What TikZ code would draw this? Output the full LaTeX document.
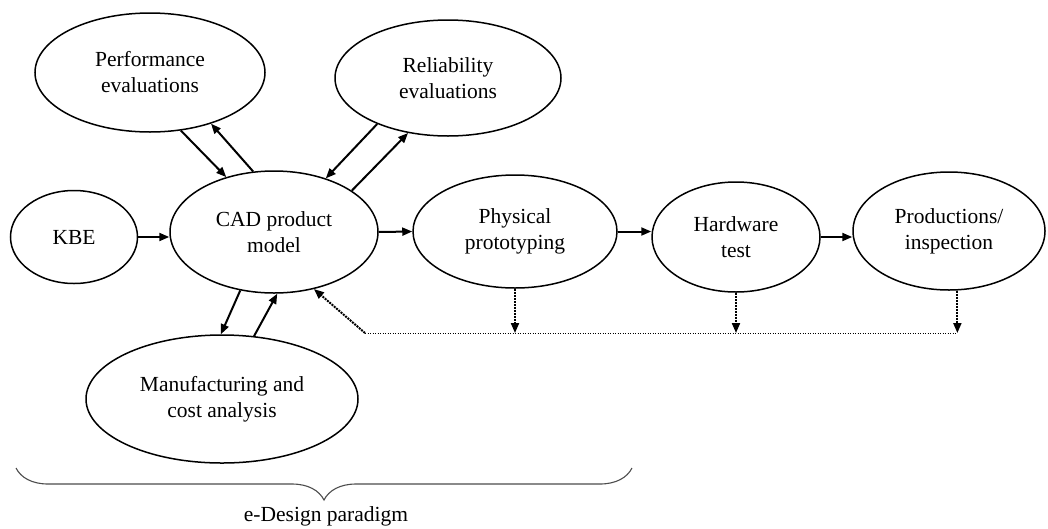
\documentclass[tikz,border=0pt]{standalone}
\usepackage{fontspec}
\setmainfont{Liberation Serif}
\usetikzlibrary{shapes.geometric,arrows.meta,decorations.pathreplacing,calc}
\begin{document}
\begin{tikzpicture}[x=1pt,y=-1pt,
  box/.style={ellipse,draw,line width=1.5pt,inner sep=0pt,align=center,font=\fontsize{21.5}{26}\selectfont},
  flow/.style={line width=2pt,-{Triangle[length=10pt,width=8pt]}},
  fb/.style={line width=2pt,densely dotted,-{Triangle[length=10pt,width=8pt]}},
  fbline/.style={line width=1pt,dash pattern=on 1pt off 1.5pt},
  bracestyle/.style={decorate,decoration={brace,amplitude=32pt,mirror},line width=1.1pt,draw=black!70},
  lbl/.style={font=\fontsize{21.5}{26}\selectfont}]
\useasboundingbox (0,0) rectangle (1048,528);
% nodes
\node[box,minimum width=230pt,minimum height=119pt] (perf) at (150,72.5) {Performance\\evaluations};
\node[box,minimum width=226pt,minimum height=116pt] (rel) at (448,78) {Reliability\\evaluations};
\node[box,minimum width=127pt,minimum height=93pt] (kbe) at (74,237) {KBE};
\node[box,minimum width=208pt,minimum height=122pt] (cad) at (274,232) {CAD product\\model};
\node[box,minimum width=204pt,minimum height=113pt] (phys) at (515,231.5) {Physical\\prototyping};
\node[box,minimum width=168pt,minimum height=110pt] (hard) at (736,237) {Hardware\\test};
\node[box,minimum width=192pt,minimum height=118pt] (prod) at (949,231) {Productions/\\inspection};
\node[box,minimum width=272pt,minimum height=128pt] (man) at (222,399) {Manufacturing and\\cost analysis};
% main flow
\draw[flow] (kbe.east) -- (kbe.east -| cad.west);
\draw[flow] (cad.east) -- (phys.west);
\draw[flow] (phys.east) -- (phys.east -| hard.west);
\draw[flow] (hard.east) -- (hard.east -| prod.west);
% evaluation loops
\draw[flow] (perf.-62.4) -- (cad.131.4);
\draw[flow] (cad.109.7) -- (perf.-40.5);
\draw[flow] (rel.213.5) -- (cad.46.1);
\draw[flow] (cad.28.5) -- (rel.234.9);
\draw[flow] (cad.-120.4) -- (man.91.8);
\draw[flow] (man.63.4) -- (cad.-87.1);
% feedback
\coordinate (dl) at (365,333);
\coordinate (dr) at (prod.-82 |- dl);
\draw[fbline] (dl) -- (dr);
\draw[fb] (dl) -- (cad.-55.1);
\draw[fb] (phys.south) -- (phys.south |- dl);
\draw[fb] (hard.south) -- (hard.south |- dl);
\draw[fb] (prod.-82) -- (dr);
% brace
\coordinate (bl) at (16,468);
\coordinate (br) at (632,468);
\draw[bracestyle] (bl) -- (br);
\node[lbl] (label) at (326,516) {e-Design paradigm};
\end{tikzpicture}
\end{document}
